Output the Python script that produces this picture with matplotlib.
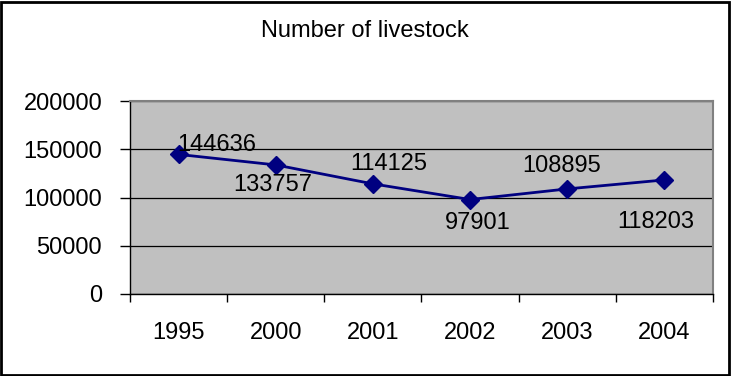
import matplotlib
matplotlib.use("Agg")
import matplotlib.pyplot as plt
from matplotlib.patches import Rectangle

years = ["1995", "2000", "2001", "2002", "2003", "2004"]
livestock = [144636, 133757, 114125, 97901, 108895, 118203]
y_ticks = [0, 50000, 100000, 150000, 200000]
title = "Number of livestock"

# value-label offsets from each point, in points (dx, dy)
label_offsets = [(27.4, 6.6), (-2.2, -14.3), (11.2, 14.1),
                 (5.4, -16.8), (-4.3, 16.7), (-6.1, -30.5)]

font = ["Liberation Sans", "DejaVu Sans"]
fs = 17

fig = plt.figure(figsize=(7.31, 3.76), dpi=100)
fig.patch.set_facecolor("white")
fig.patches.append(Rectangle((0.002, 0.003), 0.995, 0.993, transform=fig.transFigure,
                             fill=False, edgecolor="black", linewidth=2.0))

ax = fig.add_axes([130 / 731, (376 - 294) / 376, 583 / 731, 193 / 376])
ax.set_facecolor("#c0c0c0")

x = list(range(len(years)))
ax.plot(x, livestock, color="#000080", linewidth=2, marker="D", markersize=9,
        markerfacecolor="#000080", markeredgecolor="#000080", zorder=3)

for xi, v, (dx, dy) in zip(x, livestock, label_offsets):
    ax.annotate(str(v), (xi, v), xytext=(dx, dy), textcoords="offset points",
                ha="center", va="center", fontsize=fs, family=font,
                color="black", zorder=4)

ax.set_xlim(-0.5, len(years) - 0.5)
ax.set_ylim(0, 200000)
ax.set_yticks(y_ticks)
ax.set_yticklabels([str(t) for t in y_ticks], fontsize=fs, family=font)
ax.yaxis.grid(True, color="black", linewidth=0.9)
ax.set_axisbelow(True)

ax.set_xticks(x)
ax.set_xticklabels(years, fontsize=fs, family=font)
ax.set_xticks([i - 0.5 for i in range(len(years) + 1)], minor=True)
ax.tick_params(axis="x", which="major", length=0, pad=20)
ax.tick_params(axis="x", which="minor", length=6, width=1, direction="out")
ax.tick_params(axis="y", length=7, width=1, direction="out", pad=13)

for side in ("top", "right"):
    ax.spines[side].set_color("#808080")
    ax.spines[side].set_linewidth(1.5)
for side in ("left", "bottom"):
    ax.spines[side].set_color("black")
    ax.spines[side].set_linewidth(1.0)

fig.text(365 / 731, 1 - 31 / 376, title, ha="center", va="center",
         fontsize=fs, family=font)

fig.savefig("out.png", dpi=100)
